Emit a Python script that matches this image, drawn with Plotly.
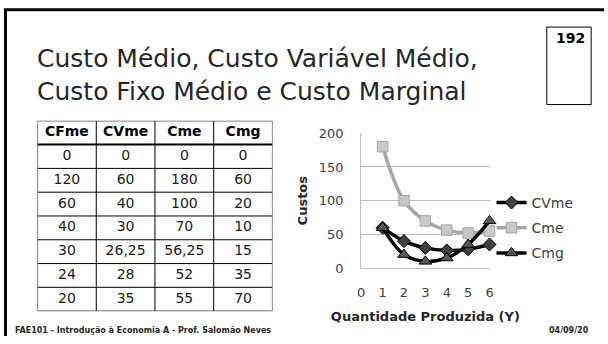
import plotly.graph_objects as go

# Cost table (quantity 0..6)
quantidade = [0, 1, 2, 3, 4, 5, 6]
cfme = [0, 120, 60, 40, 30, 24, 20]
cvme = [0, 60, 40, 30, 26.25, 28, 35]
cme = [0, 180, 100, 70, 56.25, 52, 55]
cmg = [0, 60, 20, 10, 15, 35, 70]
headers = ["CFme", "CVme", "Cme", "Cmg"]
y_ticks = [0, 50, 100, 150, 200]
x_ticks = [0, 1, 2, 3, 4, 5, 6]

W, H = 608, 344
FONT = "DejaVu Sans"


def px(x):
    return x / W


def py(y):
    return 1 - y / H


def fmt(v):
    return f"{v:g}".replace(".", ",")


fig = go.Figure()

# ---- table, laid out on its own hidden axes (one unit per column / row) ----
columns = [cfme, cvme, cme, cmg]
n_cols = len(columns)
n_rows = len(quantidade) + 1          # header + data rows
tbl_x0, tbl_x1 = 34, 272
tbl_y0, tbl_y1 = 119, 318

cell_x, cell_y, cell_txt = [], [], []
head_x, head_y, head_txt = [], [], []
for c, (name, col) in enumerate(zip(headers, columns)):
    head_x.append(c + 0.5)
    head_y.append(0.5)
    head_txt.append(f"<b>{name}</b>")
    for r, v in enumerate(col):
        cell_x.append(c + 0.5)
        cell_y.append(r + 1.5)
        cell_txt.append(fmt(v))

fig.add_trace(go.Scatter(
    x=head_x, y=head_y, text=head_txt, mode="text", xaxis="x2", yaxis="y2",
    textposition="middle center", showlegend=False, hoverinfo="skip",
    textfont=dict(family=FONT, size=14, color="#000000"),
))
fig.add_trace(go.Scatter(
    x=cell_x, y=cell_y, text=cell_txt, mode="text", xaxis="x2", yaxis="y2",
    textposition="middle center", showlegend=False, hoverinfo="skip",
    textfont=dict(family=FONT, size=14, color="#1a1a1a"),
))

shapes = []
for r in range(n_rows + 1):
    shapes.append(dict(type="line", xref="x2", yref="y2", x0=0, x1=n_cols, y0=r, y1=r,
                       line=dict(color="#000000", width=2 if r == 1 else 1)))
for c in range(n_cols + 1):
    shapes.append(dict(type="line", xref="x2", yref="y2", x0=c, x1=c, y0=0, y1=n_rows,
                       line=dict(color="#000000", width=1)))

# ---- cost curves, quantity 1..6 ----
q = quantidade[1:]
fig.add_trace(go.Scatter(
    x=q, y=cvme[1:], name="CVme", mode="lines+markers", cliponaxis=False,
    line=dict(color="#000000", width=3.5, shape="spline", smoothing=1),
    marker=dict(symbol="diamond", size=10, color="#404040",
                line=dict(color="#000000", width=1)),
    legendgroup="a",
))
fig.add_trace(go.Scatter(
    x=q, y=cme[1:], name="Cme", mode="lines+markers", cliponaxis=False,
    line=dict(color="#a6a6a6", width=3.5, shape="spline", smoothing=1),
    marker=dict(symbol="square", size=10.5, color="#c8c8c8",
                line=dict(color="#a6a6a6", width=1)),
    legendgroup="b",
))
fig.add_trace(go.Scatter(
    x=q, y=cmg[1:], name="Cmg", mode="lines+markers", cliponaxis=False,
    line=dict(color="#000000", width=3.5, shape="spline", smoothing=1),
    marker=dict(symbol="triangle-up", size=11, color="#595959",
                line=dict(color="#000000", width=1)),
    legendgroup="c",
))

shapes += [
    # slide frame (top and left edges)
    dict(type="line", xref="paper", yref="paper", x0=0, x1=1, y0=py(3), y1=py(3),
         line=dict(color="#000000", width=3)),
    dict(type="line", xref="paper", yref="paper", x0=px(1.5), x1=px(1.5), y0=0, y1=py(2),
         line=dict(color="#000000", width=3)),
    # slide number box
    dict(type="rect", xref="paper", yref="paper", x0=px(550), x1=px(595),
         y0=py(102), y1=py(21), line=dict(color="#000000", width=1)),
]

annotations = [
    dict(text="Custo Médio, Custo Variável Médio,", xref="paper", yref="paper",
         x=px(31), y=py(54), xanchor="left", yanchor="middle", showarrow=False,
         font=dict(family=FONT, size=25, color="#262626")),
    dict(text="Custo Fixo Médio e Custo Marginal", xref="paper", yref="paper",
         x=px(31), y=py(88), xanchor="left", yanchor="middle", showarrow=False,
         font=dict(family=FONT, size=25, color="#262626")),
    dict(text="<b>192</b>", xref="paper", yref="paper", x=px(557), y=py(32),
         xanchor="left", yanchor="middle", showarrow=False,
         font=dict(family=FONT, size=14, color="#000000")),
    dict(text="<b>FAE101 - Introdução à Economia A - Prof. Salomão Neves</b>",
         xref="paper", yref="paper", x=px(9), y=py(338), xanchor="left", yanchor="middle",
         showarrow=False, font=dict(family=FONT, size=8, color="#262626")),
    dict(text="<b>04/09/20</b>", xref="paper", yref="paper", x=px(595), y=py(338),
         xanchor="right", yanchor="middle", showarrow=False,
         font=dict(family=FONT, size=8, color="#262626")),
]

fig.update_layout(
    width=W, height=H,
    margin=dict(l=0, r=0, t=0, b=0),
    paper_bgcolor="white", plot_bgcolor="white",
    font=dict(family=FONT, color="#404040"),
    shapes=shapes, annotations=annotations,
    showlegend=True,
    legend=dict(x=px(494), y=py(231), xanchor="left", yanchor="middle",
                font=dict(family=FONT, size=14, color="#404040"),
                traceorder="grouped", tracegroupgap=4,
                bgcolor="rgba(0,0,0,0)"),
    xaxis=dict(domain=[px(362), px(492)], range=[0, 6], tickvals=x_ticks,
               showgrid=False, showline=True, linecolor="#bfbfbf", linewidth=1,
               zeroline=False, ticks="", ticklabelstandoff=12,
               tickfont=dict(family=FONT, size=13, color="#404040"),
               title=dict(text="<b>Quantidade Produzida (Y)</b>", standoff=13,
                          font=dict(family=FONT, size=13, color="#262626"))),
    yaxis=dict(domain=[py(273), py(132)], range=[0, 200], tickvals=y_ticks,
               showgrid=True, gridcolor="#bfbfbf", gridwidth=1,
               showline=True, linecolor="#bfbfbf", linewidth=1,
               zeroline=False, ticks="", ticklabelstandoff=14,
               tickfont=dict(family=FONT, size=13, color="#404040"),
               title=dict(text="<b>Custos</b>", standoff=8,
                          font=dict(family=FONT, size=13, color="#262626"))),
    xaxis2=dict(domain=[px(tbl_x0), px(tbl_x1)], range=[0, n_cols], visible=False,
                fixedrange=True),
    yaxis2=dict(domain=[py(tbl_y1), py(tbl_y0)], range=[n_rows, 0], visible=False,
                fixedrange=True, anchor="x2"),
)

fig.write_html("out.html")
